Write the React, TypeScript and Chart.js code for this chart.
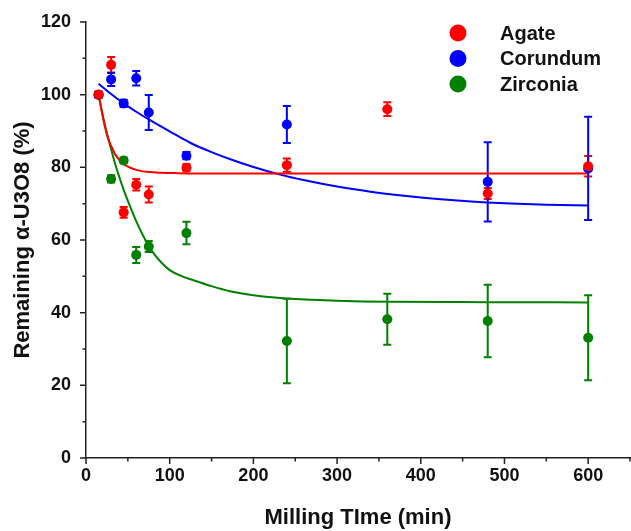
import React, { useEffect, useRef } from "react";
import { Chart, registerables } from "chart.js";

Chart.register(...registerables);

// ---- Data ----
const seriesNames = ["Agate", "Corundum", "Zirconia"];
const seriesColors = ["#ff0000", "#0000ff", "#008000"];

const agateTimes = [15, 30, 45, 60, 75, 120, 240, 360, 480, 600];
const agateValues = [100, 108.2, 67.6, 75.2, 72.5, 79.9, 80.6, 96, 72.8, 80.3];
const agateErrors = [0.8, 2.2, 1.5, 1.6, 2.2, 1, 1.8, 1.9, 1.5, 2.8];

const corundumTimes = [15, 30, 45, 60, 75, 120, 240, 480, 600];
const corundumValues = [100, 104.2, 97.6, 104.5, 95.1, 83.2, 91.8, 76, 79.7];
const corundumErrors = [0.8, 1.8, 1, 2, 4.8, 1, 5.1, 10.9, 14.2];

const zirconiaTimes = [15, 30, 45, 60, 75, 120, 240, 360, 480, 600];
const zirconiaValues = [100, 76.8, 81.9, 55.9, 58.2, 61.9, 32.2, 38.2, 37.7, 33.1];
const zirconiaErrors = [0.8, 1, 0.8, 2.2, 1.5, 3.1, 11.6, 7, 10, 11.7];

// fitted curves
const agateFitTimes = [15, 17.5, 20, 22.5, 25, 27.5, 30, 35, 40, 45, 50, 60, 75, 90, 110, 150, 250, 400, 600];
const agateFitValues = [100, 97, 94, 91.3, 89, 87.3, 85.9, 83.5, 82, 80.9, 80.2, 79.3, 78.7, 78.5, 78.4, 78.3, 78.3, 78.3, 78.3];

const corundumFitTimes = [15, 30, 45, 60, 75, 100, 125, 150, 175, 200, 232, 260, 300, 340, 380, 420, 460, 500, 550, 600];
const corundumFitValues = [103, 100.2, 97.6, 95.3, 93.2, 89.9, 86.7, 84.2, 82, 80.1, 78, 76.5, 74.7, 73.3, 72.2, 71.3, 70.6, 70.1, 69.7, 69.5];

const zirconiaFitTimes = [15, 20, 25, 30, 35, 40, 45, 50, 60, 70, 80, 90, 100, 115, 125, 150, 172, 200, 240, 300, 360, 480, 600];
const zirconiaFitValues = [100, 94.3, 89.4, 85, 80.8, 77.2, 73.8, 70.8, 65.2, 60.4, 56.6, 53.8, 51.7, 50, 49.2, 47.3, 45.9, 44.8, 43.9, 43.3, 43, 42.9, 42.8];

const xMin = 0;
const xMax = 650;
const xMajorStep = 100;
const xMinorStep = 50;
const yMin = 0;
const yMax = 120;
const yMajorStep = 20;
const yMinorStep = 10;

const xTitle = "Milling TIme (min)";
const yTitle = "Remaining α-U3O8 (%)";

const FONT = "Arial, 'Liberation Sans', Helvetica, sans-serif";

const toPts = (xs: number[], ys: number[]) => xs.map((x, i) => ({ x, y: ys[i] }));

const errorBarPlugin = {
  id: "errorBars",
  beforeDatasetsDraw(chart: any) {
    const ctx = chart.ctx;
    const yScale = chart.scales.y;
    chart.data.datasets.forEach((ds: any, i: number) => {
      if (!ds.errors) return;
      const meta = chart.getDatasetMeta(i);
      ctx.save();
      ctx.strokeStyle = ds.borderColor;
      ctx.lineWidth = 2;
      meta.data.forEach((el: any, j: number) => {
        const v = ds.data[j].y;
        const e = ds.errors[j];
        if (!e) return;
        const x = el.x;
        const yt = yScale.getPixelForValue(v + e);
        const yb = yScale.getPixelForValue(v - e);
        const cw = 4;
        ctx.beginPath();
        ctx.moveTo(x, yt);
        ctx.lineTo(x, yb);
        ctx.moveTo(x - cw, yt);
        ctx.lineTo(x + cw, yt);
        ctx.moveTo(x - cw, yb);
        ctx.lineTo(x + cw, yb);
        ctx.stroke();
      });
      ctx.restore();
    });
  },
};

const ticksPlugin = {
  id: "axisTicks",
  afterDraw(chart: any) {
    const ctx = chart.ctx;
    const xs = chart.scales.x;
    const ys = chart.scales.y;
    const area = chart.chartArea;
    ctx.save();
    ctx.strokeStyle = "#222";
    ctx.lineWidth = 1.5;
    ctx.beginPath();
    for (let v = xMin; v <= xMax + 0.001; v += xMinorStep) {
      const px = xs.getPixelForValue(v);
      const len = v % xMajorStep === 0 ? 6 : 3.5;
      ctx.moveTo(px, area.bottom);
      ctx.lineTo(px, area.bottom + len);
    }
    for (let v = yMin; v <= yMax + 0.001; v += yMinorStep) {
      const py = ys.getPixelForValue(v);
      const len = v % yMajorStep === 0 ? 6 : 3.5;
      ctx.moveTo(area.left, py);
      ctx.lineTo(area.left - len, py);
    }
    ctx.stroke();
    ctx.restore();
  },
};

const legendPlugin = {
  id: "insideLegend",
  afterDraw(chart: any) {
    const ctx = chart.ctx;
    const area = chart.chartArea;
    ctx.save();
    ctx.font = `bold 20px ${FONT}`;
    ctx.textBaseline = "middle";
    ctx.textAlign = "left";
    seriesNames.forEach((name, i) => {
      const cy = area.top + 11 + i * 25.5;
      const cx = area.right - 172;
      ctx.fillStyle = seriesColors[i];
      ctx.beginPath();
      ctx.arc(cx, cy, 8.5, 0, Math.PI * 2);
      ctx.fill();
      ctx.fillStyle = "#111";
      ctx.fillText(name, area.right - 130, cy + 1);
    });
    ctx.restore();
  },
};

// canvas is a few px wider than the window so the plot area reaches x=630
const CANVAS_W = 635;
const CANVAS_H = 531;

export default function App() {
  const ref = useRef<HTMLCanvasElement | null>(null);

  useEffect(() => {
    if (!ref.current) return;
    const fitDs = (xs: number[], ys: number[], color: string) => ({
      type: "line" as const,
      data: toPts(xs, ys),
      borderColor: color,
      backgroundColor: color,
      borderWidth: 2,
      pointRadius: 0,
      showLine: true,
      fill: false,
      cubicInterpolationMode: "monotone" as const,
      order: 3,
    });
    const ptDs = (xs: number[], ys: number[], errs: number[], color: string, label: string) => ({
      type: "scatter" as const,
      label,
      data: toPts(xs, ys),
      errors: errs,
      borderColor: color,
      backgroundColor: color,
      pointRadius: 5,
      pointBorderWidth: 0,
      showLine: false,
      order: 1,
    });
    const chart = new Chart(ref.current, {
      type: "scatter",
      data: {
        datasets: [
          fitDs(agateFitTimes, agateFitValues, seriesColors[0]),
          fitDs(corundumFitTimes, corundumFitValues, seriesColors[1]),
          fitDs(zirconiaFitTimes, zirconiaFitValues, seriesColors[2]),
          ptDs(agateTimes, agateValues, agateErrors, seriesColors[0], seriesNames[0]),
          ptDs(corundumTimes, corundumValues, corundumErrors, seriesColors[1], seriesNames[1]),
          ptDs(zirconiaTimes, zirconiaValues, zirconiaErrors, seriesColors[2], seriesNames[2]),
        ] as any,
      },
      options: {
        animation: false,
        responsive: false,
        maintainAspectRatio: false,
        layout: { padding: { top: 22, right: 1, left: 0, bottom: 0 } },
        plugins: { legend: { display: false }, tooltip: { enabled: false } },
        scales: {
          x: {
            type: "linear",
            min: xMin,
            max: xMax,
            grid: { display: false, drawTicks: false },
            border: { display: true, color: "#222", width: 1.5 },
            ticks: {
              stepSize: xMajorStep,
              includeBounds: false,
              color: "#111",
              font: { family: FONT, size: 18, weight: "bold" },
              padding: 7,
              maxRotation: 0,
              autoSkip: false,
              callback: (v: any) => (Number(v) % xMajorStep === 0 ? String(v) : ""),
            },
            title: {
              display: true,
              text: xTitle,
              color: "#111",
              font: { family: FONT, size: 22, weight: "bold" },
              padding: { top: 0, bottom: 0 },
            },
            afterFit: (s: any) => {
              s.height = 73;
              s.paddingLeft = 0;
              s.paddingRight = 0;
            },
          },
          y: {
            type: "linear",
            min: yMin,
            max: yMax,
            grid: { display: false, drawTicks: false },
            border: { display: true, color: "#222", width: 1.5 },
            ticks: {
              stepSize: yMajorStep,
              color: "#111",
              font: { family: FONT, size: 18, weight: "bold" },
              padding: 15,
            },
            title: {
              display: true,
              text: yTitle,
              color: "#111",
              font: { family: FONT, size: 22, weight: "bold" },
              padding: { top: 10, bottom: 0 },
            },
            afterFit: (s: any) => {
              s.width = 86;
              s.paddingTop = 0;
              s.paddingBottom = 0;
            },
          },
        },
      } as any,
      plugins: [errorBarPlugin, ticksPlugin, legendPlugin],
    });
    return () => chart.destroy();
  }, []);

  return (
    <div style={{ position: "fixed", left: 0, top: 0, width: CANVAS_W, height: CANVAS_H, background: "#fff" }}>
      <canvas ref={ref} width={CANVAS_W} height={CANVAS_H} style={{ display: "block" }} />
    </div>
  );
}
